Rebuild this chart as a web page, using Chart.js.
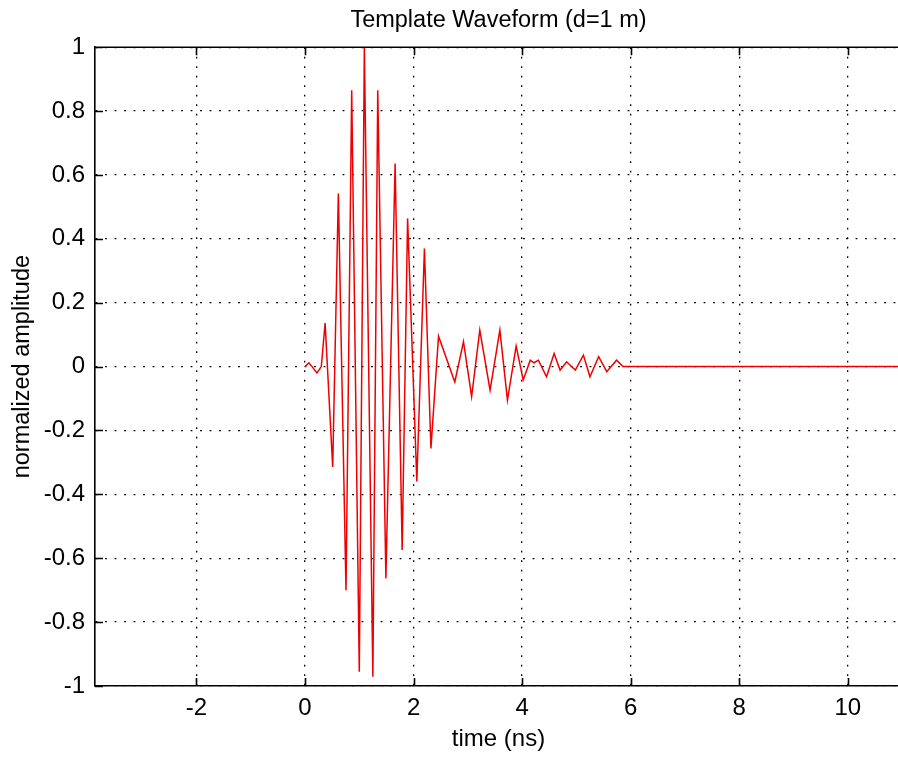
<!DOCTYPE html>
<html>
<head>
<meta charset="utf-8">
<title>Template Waveform</title>
<script src="https://cdn.jsdelivr.net/npm/chart.js@4/dist/chart.umd.min.js"></script>
<style>
  html, body { margin: 0; padding: 0; background: #ffffff; overflow: hidden; }
  #waveChart { display: block; }
</style>
</head>
<body>
<canvas id="waveChart" width="904" height="758"></canvas>
<script>
// waveform (time in ns, normalized amplitude)
const timeNs = [
  0, 0.07, 0.13, 0.22, 0.3, 0.37, 0.51, 0.614, 0.755, 0.86,
  1.0, 1.093, 1.25, 1.34, 1.49, 1.66, 1.79, 1.89, 2.06, 2.2,
  2.32, 2.46, 2.76, 2.92, 3.07, 3.22, 3.41, 3.59, 3.73, 3.89,
  4.02, 4.15, 4.22, 4.3, 4.45, 4.59, 4.7, 4.82, 4.98, 5.13,
  5.25, 5.41, 5.56, 5.74, 5.86, 11
];
const amplitude = [
  0, 0.012, 0, -0.02, 0, 0.136, -0.314, 0.542, -0.7, 0.865,
  -0.955, 1.0, -0.971, 0.865, -0.663, 0.636, -0.574, 0.464, -0.36, 0.37,
  -0.256, 0.095, -0.048, 0.078, -0.094, 0.114, -0.074, 0.114, -0.105, 0.064,
  -0.042, 0.02, 0.012, 0.02, -0.032, 0.041, -0.011, 0.015, -0.011, 0.036,
  -0.032, 0.031, -0.016, 0.02, 0, 0
];

const xTickValues = [-2, 0, 2, 4, 6, 8, 10];
const xTickLabels = ["-2", "0", "2", "4", "6", "8", "10"];
const yTickValues = [-1, -0.8, -0.6, -0.4, -0.2, 0, 0.2, 0.4, 0.6, 0.8, 1];
const yTickLabels = ["-1", "-0.8", "-0.6", "-0.4", "-0.2", "0", "0.2", "0.4", "0.6", "0.8", "1"];

const fontFamily = "\"Liberation Sans\", Arial, sans-serif";
const tickLen = 8;

// top frame line plus the inward tick marks, MATLAB style
const frameTicks = {
  id: "frameTicks",
  afterDraw(chart) {
    const { ctx, chartArea: area, scales } = chart;
    ctx.save();
    ctx.strokeStyle = "#000000";
    ctx.lineWidth = 1.6;
    ctx.beginPath();
    ctx.moveTo(area.left, area.top);
    ctx.lineTo(area.right, area.top);
    xTickValues.forEach((v) => {
      const px = Math.round(scales.x.getPixelForValue(v)) + 0.5;
      ctx.moveTo(px, area.bottom);
      ctx.lineTo(px, area.bottom - tickLen);
      ctx.moveTo(px, area.top);
      ctx.lineTo(px, area.top + tickLen);
    });
    yTickValues.forEach((v) => {
      const py = Math.round(scales.y.getPixelForValue(v)) + 0.5;
      ctx.moveTo(area.left, py);
      ctx.lineTo(area.left + tickLen, py);
    });
    ctx.stroke();
    ctx.restore();
  }
};

Chart.defaults.font.family = fontFamily;
Chart.defaults.color = "#000000";

new Chart(document.getElementById("waveChart"), {
  type: "line",
  data: {
    datasets: [
      {
        data: timeNs.map((t, i) => ({ x: t, y: amplitude[i] })),
        borderColor: "#ee0000",
        borderWidth: 1.5,
        pointRadius: 0,
        tension: 0,
        fill: false
      }
    ]
  },
  options: {
    responsive: false,
    animation: false,
    layout: { padding: { left: 0, right: 2, top: 0, bottom: 0 } },
    plugins: {
      legend: { display: false },
      tooltip: { enabled: false },
      title: {
        display: true,
        fullSize: false,
        text: "Template Waveform (d=1 m)",
        color: "#000000",
        font: { size: 23.5, weight: "normal" },
        padding: { top: 6, bottom: 13 }
      }
    },
    scales: {
      x: {
        type: "linear",
        min: -3.87,
        max: 11,
        afterBuildTicks(scale) {
          scale.ticks = xTickValues.map((v) => ({ value: v }));
        },
        afterFit(scale) {
          scale.height = 72;
        },
        ticks: {
          font: { size: 24 },
          padding: 8,
          maxRotation: 0,
          callback(value, index) {
            return xTickLabels[index];
          }
        },
        grid: { color: "#000000", lineWidth: 1.3, drawTicks: false },
        border: { display: true, color: "#000000", width: 1.6, dash: [1.8, 7.7] },
        title: {
          display: true,
          text: "time (ns)",
          font: { size: 24 },
          padding: { top: 0, bottom: 4 }
        }
      },
      y: {
        min: -1,
        max: 1,
        afterBuildTicks(scale) {
          scale.ticks = yTickValues.map((v) => ({ value: v }));
        },
        afterFit(scale) {
          scale.width = 95;
        },
        ticks: {
          font: { size: 24 },
          padding: 10,
          callback(value, index) {
            return yTickLabels[index];
          }
        },
        grid: { color: "#000000", lineWidth: 1.3, drawTicks: false },
        border: { display: true, color: "#000000", width: 1.6, dash: [1.8, 7.7] },
        title: {
          display: true,
          text: "normalized amplitude",
          font: { size: 23.5 },
          padding: { top: 8, bottom: 0 }
        }
      }
    }
  },
  plugins: [frameTicks]
});
</script>
</body>
</html>
